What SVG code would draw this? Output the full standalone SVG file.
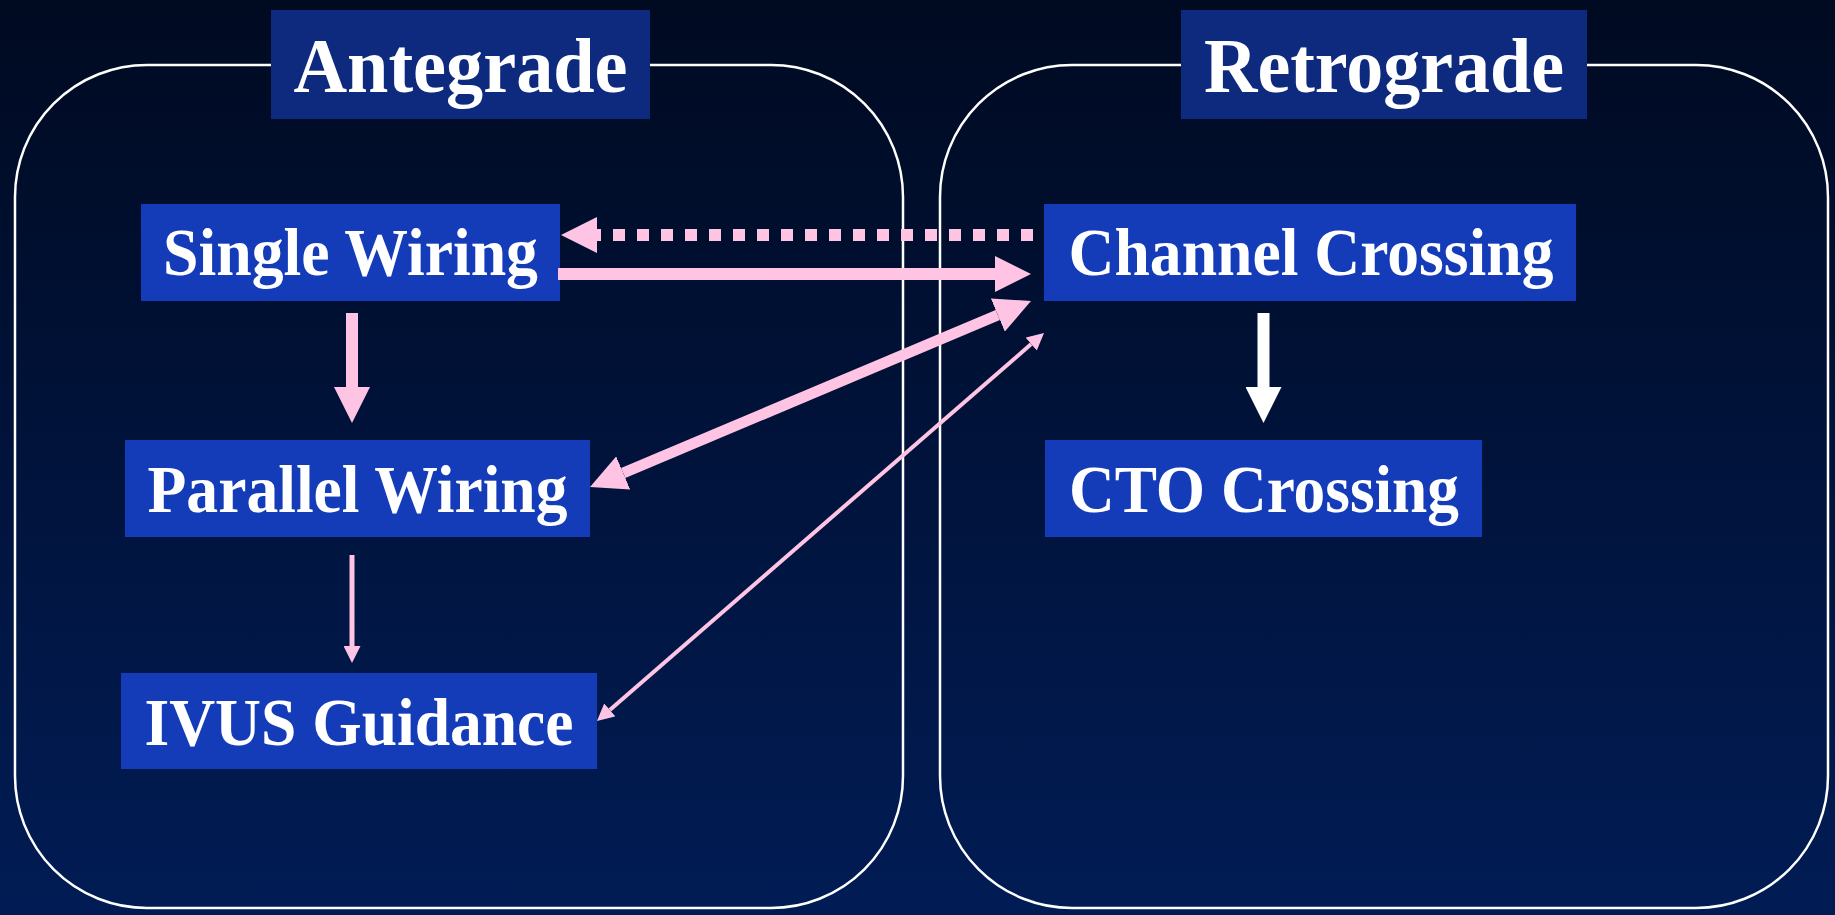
<svg xmlns="http://www.w3.org/2000/svg" width="1835" height="915" viewBox="0 0 1835 915">
  <defs>
    <linearGradient id="bg" x1="0" y1="0" x2="0" y2="1">
      <stop offset="0" stop-color="#000a21"/>
      <stop offset="1" stop-color="#011c55"/>
    </linearGradient>
    <marker id="headPink" markerUnits="userSpaceOnUse" markerWidth="36" markerHeight="36" viewBox="0 0 36 36" refX="0" refY="18" orient="auto-start-reverse">
      <path d="M0,0 L36,18 L0,36 Z" fill="#ffc4e4"/>
    </marker>
    <marker id="headWhite" markerUnits="userSpaceOnUse" markerWidth="36" markerHeight="36" viewBox="0 0 36 36" refX="0" refY="18" orient="auto-start-reverse">
      <path d="M0,0 L36,18 L0,36 Z" fill="#ffffff"/>
    </marker>
    <marker id="headThin" markerUnits="userSpaceOnUse" markerWidth="17" markerHeight="17" viewBox="0 0 17 17" refX="0" refY="8.5" orient="auto-start-reverse">
      <path d="M0,0 L17,8.5 L0,17 Z" fill="#ffc4e4"/>
    </marker>
  </defs>
  <style>
    .panel { fill: none; stroke: #ffffff; stroke-width: 2.5; }
    .header rect { fill: #0d2a7e; }
    .node rect { fill: #143cb9; }
    text { font-family: "Liberation Serif", "Times New Roman", serif; font-weight: bold; fill: #ffffff; text-anchor: middle; }
    .header text { font-size: 78px; }
    .node text { font-size: 68px; }
    .pink { stroke: #ffc4e4; fill: none; }
    .thick { stroke-width: 12; }
  </style>

  <rect x="0" y="0" width="1835" height="915" fill="url(#bg)"/>

  <g id="panel-antegrade">
    <rect class="panel" x="15" y="65" width="888" height="843" rx="132" ry="132"/>
  </g>
  <g id="panel-retrograde">
    <rect class="panel" x="940" y="65" width="888" height="843" rx="132" ry="132"/>
  </g>

  <g id="header-antegrade" class="header">
    <rect x="271" y="10" width="379" height="109"/>
    <text x="460.5" y="92" textLength="334" lengthAdjust="spacingAndGlyphs">Antegrade</text>
  </g>
  <g id="header-retrograde" class="header">
    <rect x="1181" y="10" width="406" height="109"/>
    <text x="1384" y="92" textLength="360" lengthAdjust="spacingAndGlyphs">Retrograde</text>
  </g>

  <g id="node-single-wiring" class="node">
    <rect x="141" y="204" width="419" height="97"/>
    <text x="350.5" y="275" textLength="375" lengthAdjust="spacingAndGlyphs">Single Wiring</text>
  </g>
  <g id="node-parallel-wiring" class="node">
    <rect x="125" y="440" width="465" height="97"/>
    <text x="357.5" y="512" textLength="420" lengthAdjust="spacingAndGlyphs">Parallel Wiring</text>
  </g>
  <g id="node-ivus-guidance" class="node">
    <rect x="121" y="673" width="476" height="96"/>
    <text x="359" y="745" textLength="429" lengthAdjust="spacingAndGlyphs">IVUS Guidance</text>
  </g>
  <g id="node-channel-crossing" class="node">
    <rect x="1044" y="204" width="532" height="97"/>
    <text x="1311" y="275" textLength="485" lengthAdjust="spacingAndGlyphs">Channel Crossing</text>
  </g>
  <g id="node-cto-crossing" class="node">
    <rect x="1045" y="440" width="437" height="97"/>
    <text x="1264" y="512" textLength="390" lengthAdjust="spacingAndGlyphs">CTO Crossing</text>
  </g>

  <g id="connectors">
    <!-- Single Wiring -> Parallel Wiring -->
    <line class="pink thick" x1="352" y1="313" x2="352" y2="387" marker-end="url(#headPink)"/>
    <!-- Parallel Wiring -> IVUS Guidance -->
    <line class="pink" stroke-width="5" x1="352" y1="555" x2="352" y2="646" marker-end="url(#headThin)"/>
    <!-- Single Wiring -> Channel Crossing -->
    <line class="pink thick" x1="558" y1="274" x2="995" y2="274" marker-end="url(#headPink)"/>
    <!-- Channel Crossing -> Single Wiring (dotted) -->
    <line class="pink thick" stroke-dasharray="12 12" x1="1033" y1="235" x2="597" y2="235" marker-end="url(#headPink)"/>
    <!-- Parallel Wiring <-> Channel Crossing -->
    <line class="pink" stroke-width="11" x1="623.2" y1="473" x2="997.8" y2="315" marker-start="url(#headPink)" marker-end="url(#headPink)"/>
    <!-- IVUS Guidance <-> Channel Crossing -->
    <line class="pink" stroke-width="4" x1="609.8" y1="709.9" x2="1031.2" y2="344.1" marker-start="url(#headThin)" marker-end="url(#headThin)"/>
    <!-- Channel Crossing -> CTO Crossing -->
    <line stroke="#ffffff" class="thick" x1="1263.5" y1="313" x2="1263.5" y2="387" marker-end="url(#headWhite)"/>
  </g>
</svg>
